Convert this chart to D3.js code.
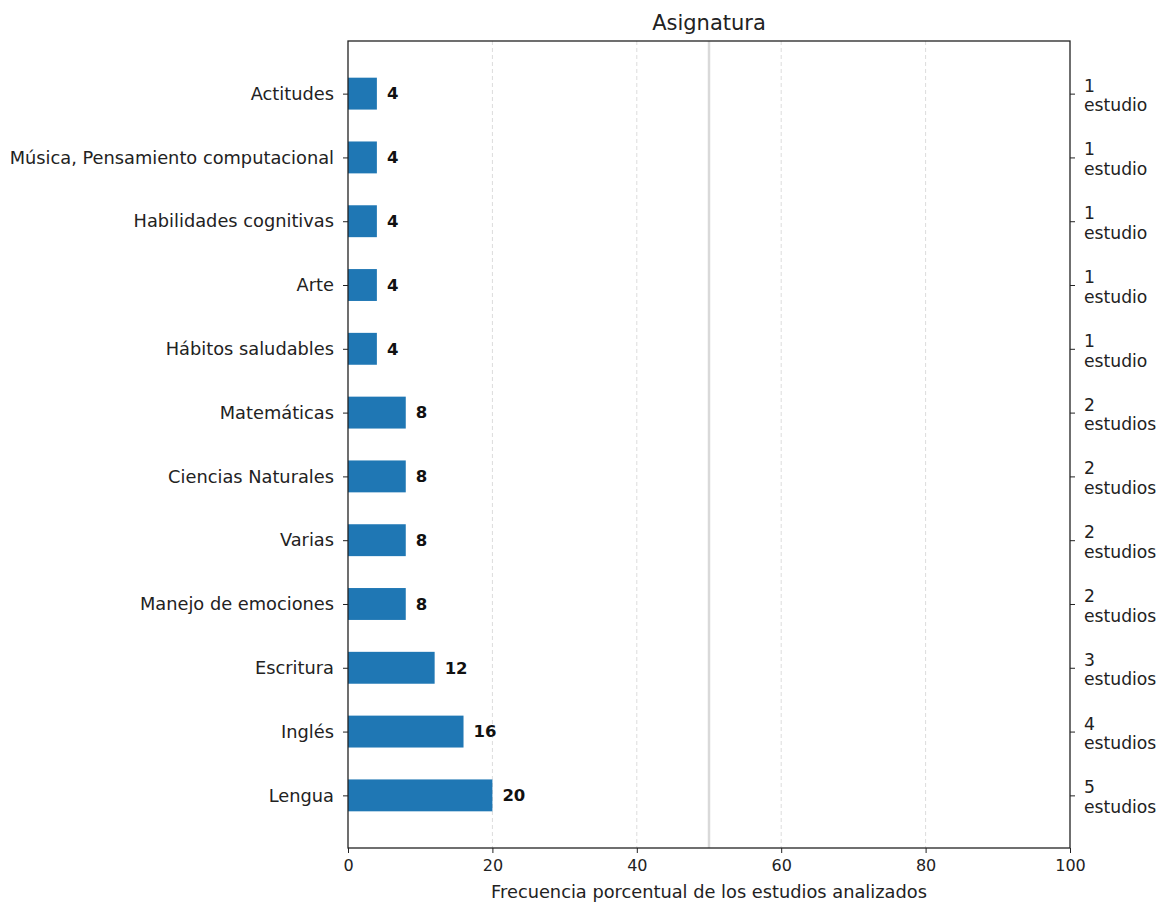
<!DOCTYPE html>
<html><head><meta charset="utf-8">
<script src="https://cdn.jsdelivr.net/npm/d3@7"></script>
<style>body{margin:0;background:#fff}svg{font-family:"DejaVu Sans",sans-serif}</style>
</head><body>
<svg id="c" width="1161" height="904"></svg>
<script>
const categories = ["Actitudes","Música, Pensamiento computacional","Habilidades cognitivas","Arte","Hábitos saludables","Matemáticas","Ciencias Naturales","Varias","Manejo de emociones","Escritura","Inglés","Lengua"];
const values = [4,4,4,4,4,8,8,8,8,12,16,20];
const studies = [1,1,1,1,1,2,2,2,2,3,4,5];
const xTicks = [0,20,40,60,80,100];
const gridTicks = [20,40,60,80];
const refLine = 50;

const svg = d3.select("#c");
const L=348,R=1070,T=41,B=848;
const x = d3.scaleLinear().domain([0,100]).range([L,R]);
const y = d3.scaleLinear().domain([-0.825, 11.825]).range([T,B]);
const barH = y(0.5)-y(0);

svg.append("g").selectAll("line").data(gridTicks).join("line")
  .attr("x1",d=>x(d)).attr("x2",d=>x(d)).attr("y1",T).attr("y2",B)
  .attr("stroke","#dcdcdc").attr("stroke-width",1).attr("stroke-dasharray","4,3");
svg.append("line").attr("x1",x(refLine)).attr("x2",x(refLine)).attr("y1",T).attr("y2",B)
  .attr("stroke","#d9d9d9").attr("stroke-width",2.5);

svg.append("g").selectAll("rect").data(values).join("rect")
  .attr("x",x(0)).attr("y",(d,i)=>y(i)-barH/2).attr("width",d=>x(d)-x(0)).attr("height",barH)
  .attr("fill","#1f77b4");
svg.append("g").selectAll("text").data(values).join("text")
  .attr("x",d=>x(d)+10).attr("y",(d,i)=>y(i)).attr("dy","0.35em")
  .attr("font-size",16.5).attr("font-weight","bold").attr("fill","#111").text(d=>d);

svg.append("rect").attr("x",L).attr("y",T).attr("width",R-L).attr("height",B-T)
  .attr("fill","none").attr("stroke","#222").attr("stroke-width",1.3);

const xa = svg.append("g").attr("transform",`translate(0,${B})`)
  .call(d3.axisBottom(x).tickValues(xTicks).tickSize(5).tickPadding(7));
xa.select(".domain").remove();
xa.selectAll("text").attr("font-size",16).attr("fill","#222").attr("font-family","DejaVu Sans");
xa.selectAll("line").attr("stroke","#222");

const yl = svg.append("g").attr("transform",`translate(${L},0)`)
  .call(d3.axisLeft(y).tickValues(d3.range(categories.length)).tickFormat(i=>categories[i]).tickSize(5).tickPadding(9));
yl.select(".domain").remove();
yl.selectAll("text").attr("font-size",17.8).attr("fill","#222").attr("font-family","DejaVu Sans");
yl.selectAll("line").attr("stroke","#222");

const yr = svg.append("g").attr("transform",`translate(${R},0)`)
  .call(d3.axisRight(y).tickValues(d3.range(categories.length)).tickFormat(()=>"").tickSize(5));
yr.select(".domain").remove();
yr.selectAll("line").attr("stroke","#222");
const rl = svg.append("g").selectAll("text").data(studies).join("text")
  .attr("x",R+14).attr("y",(d,i)=>y(i)).attr("font-size",17.2).attr("fill","#222");
rl.append("tspan").attr("x",R+14).attr("dy","-0.12em").text(d=>d);
rl.append("tspan").attr("x",R+14).attr("dy","1.15em").text(d=>d===1?"estudio":"estudios");

svg.append("text").attr("x",(L+R)/2).attr("y",30).attr("text-anchor","middle")
  .attr("font-size",21).attr("fill","#222").text("Asignatura");
svg.append("text").attr("x",(L+R)/2).attr("y",898).attr("text-anchor","middle")
  .attr("font-size",17.8).attr("fill","#222").text("Frecuencia porcentual de los estudios analizados");
</script>
</body></html>
